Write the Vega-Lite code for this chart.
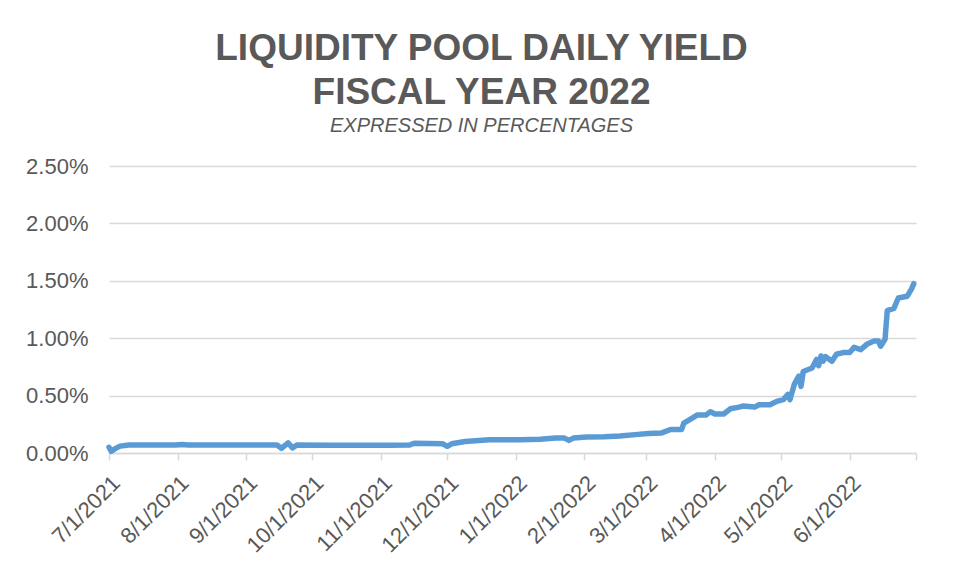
{
  "$schema": "https://vega.github.io/schema/vega-lite/v6.json",
  "width": 807,
  "height": 287,
  "autosize": {"type": "none"},
  "padding": {"left": 109, "top": 166, "right": 46, "bottom": 127},
  "background": "white",
  "title": {
    "text": ["LIQUIDITY POOL DAILY YIELD", "FISCAL YEAR 2022"],
    "subtitle": "EXPRESSED IN PERCENTAGES",
    "anchor": "middle",
    "frame": "group",
    "dx": -31,
    "offset": 18,
    "font": "Liberation Sans",
    "fontSize": 37,
    "fontWeight": "bold",
    "color": "#595959",
    "lineHeight": 44,
    "subtitleFont": "Liberation Sans",
    "subtitleFontSize": 20,
    "subtitleFontStyle": "italic",
    "subtitleColor": "#595959",
    "subtitlePadding": 4
  },
  "data": {
    "values": [
      {"date": "2021-07-01", "yield": 0.0005},
      {"date": "2021-07-02", "yield": 0.00015},
      {"date": "2021-07-04", "yield": 0.0004},
      {"date": "2021-07-06", "yield": 0.0006},
      {"date": "2021-07-10", "yield": 0.0007},
      {"date": "2021-07-20", "yield": 0.0007},
      {"date": "2021-07-31", "yield": 0.0007},
      {"date": "2021-08-03", "yield": 0.00075},
      {"date": "2021-08-06", "yield": 0.0007},
      {"date": "2021-08-20", "yield": 0.0007},
      {"date": "2021-09-01", "yield": 0.0007},
      {"date": "2021-09-15", "yield": 0.0007},
      {"date": "2021-09-17", "yield": 0.0004},
      {"date": "2021-09-20", "yield": 0.00088},
      {"date": "2021-09-22", "yield": 0.00045},
      {"date": "2021-09-24", "yield": 0.0007},
      {"date": "2021-10-10", "yield": 0.00068},
      {"date": "2021-10-25", "yield": 0.00068},
      {"date": "2021-11-05", "yield": 0.00068},
      {"date": "2021-11-14", "yield": 0.0007},
      {"date": "2021-11-16", "yield": 0.00085},
      {"date": "2021-11-29", "yield": 0.0008},
      {"date": "2021-12-01", "yield": 0.00058},
      {"date": "2021-12-03", "yield": 0.0008},
      {"date": "2021-12-09", "yield": 0.001},
      {"date": "2021-12-20", "yield": 0.00115},
      {"date": "2022-01-03", "yield": 0.00115},
      {"date": "2022-01-12", "yield": 0.0012},
      {"date": "2022-01-19", "yield": 0.0013},
      {"date": "2022-01-23", "yield": 0.0013},
      {"date": "2022-01-25", "yield": 0.0011},
      {"date": "2022-01-27", "yield": 0.0013},
      {"date": "2022-02-02", "yield": 0.0014},
      {"date": "2022-02-10", "yield": 0.00142},
      {"date": "2022-02-17", "yield": 0.00148},
      {"date": "2022-02-24", "yield": 0.0016},
      {"date": "2022-03-02", "yield": 0.0017},
      {"date": "2022-03-08", "yield": 0.00175},
      {"date": "2022-03-12", "yield": 0.00205},
      {"date": "2022-03-17", "yield": 0.00205},
      {"date": "2022-03-18", "yield": 0.0026},
      {"date": "2022-03-24", "yield": 0.0033},
      {"date": "2022-03-28", "yield": 0.0033},
      {"date": "2022-03-30", "yield": 0.0036},
      {"date": "2022-04-01", "yield": 0.0034},
      {"date": "2022-04-05", "yield": 0.0034},
      {"date": "2022-04-08", "yield": 0.00385},
      {"date": "2022-04-12", "yield": 0.004},
      {"date": "2022-04-14", "yield": 0.0041},
      {"date": "2022-04-19", "yield": 0.004},
      {"date": "2022-04-21", "yield": 0.0042},
      {"date": "2022-04-26", "yield": 0.0042},
      {"date": "2022-04-29", "yield": 0.0045},
      {"date": "2022-05-02", "yield": 0.00465},
      {"date": "2022-05-04", "yield": 0.0051},
      {"date": "2022-05-05", "yield": 0.00465},
      {"date": "2022-05-07", "yield": 0.006},
      {"date": "2022-05-09", "yield": 0.0067},
      {"date": "2022-05-10", "yield": 0.0058},
      {"date": "2022-05-11", "yield": 0.0071},
      {"date": "2022-05-15", "yield": 0.0074},
      {"date": "2022-05-17", "yield": 0.00815},
      {"date": "2022-05-18", "yield": 0.0076},
      {"date": "2022-05-19", "yield": 0.00845},
      {"date": "2022-05-20", "yield": 0.008},
      {"date": "2022-05-21", "yield": 0.0084},
      {"date": "2022-05-24", "yield": 0.008},
      {"date": "2022-05-26", "yield": 0.0086},
      {"date": "2022-05-29", "yield": 0.00875},
      {"date": "2022-06-01", "yield": 0.00875},
      {"date": "2022-06-03", "yield": 0.0092},
      {"date": "2022-06-06", "yield": 0.009},
      {"date": "2022-06-09", "yield": 0.0095},
      {"date": "2022-06-12", "yield": 0.00975},
      {"date": "2022-06-14", "yield": 0.00975},
      {"date": "2022-06-15", "yield": 0.0093},
      {"date": "2022-06-17", "yield": 0.0099},
      {"date": "2022-06-18", "yield": 0.0124},
      {"date": "2022-06-21", "yield": 0.0126},
      {"date": "2022-06-23", "yield": 0.0135},
      {"date": "2022-06-27", "yield": 0.01365},
      {"date": "2022-06-29", "yield": 0.0143},
      {"date": "2022-06-30", "yield": 0.01475}
    ]
  },
  "mark": {"type": "line", "color": "#5b9bd5", "strokeWidth": 5.5, "strokeJoin": "round", "strokeCap": "round"},
  "encoding": {
    "x": {
      "field": "date",
      "type": "temporal",
      "scale": {
        "type": "utc",
        "domain": [
          {"year": 2021, "month": 7, "date": 1, "utc": true},
          {"year": 2022, "month": 7, "date": 1, "utc": true}
        ]
      },
      "axis": {
        "title": null,
        "grid": false,
        "values": [
          {"year": 2021, "month": 7, "date": 1, "utc": true},
          {"year": 2021, "month": 8, "date": 1, "utc": true},
          {"year": 2021, "month": 9, "date": 1, "utc": true},
          {"year": 2021, "month": 10, "date": 1, "utc": true},
          {"year": 2021, "month": 11, "date": 1, "utc": true},
          {"year": 2021, "month": 12, "date": 1, "utc": true},
          {"year": 2022, "month": 1, "date": 1, "utc": true},
          {"year": 2022, "month": 2, "date": 1, "utc": true},
          {"year": 2022, "month": 3, "date": 1, "utc": true},
          {"year": 2022, "month": 4, "date": 1, "utc": true},
          {"year": 2022, "month": 5, "date": 1, "utc": true},
          {"year": 2022, "month": 6, "date": 1, "utc": true},
          {"year": 2022, "month": 7, "date": 1, "utc": true}
        ],
        "labelExpr": "datum.value >= utc(2022, 5, 15) ? '' : utcFormat(datum.value, '%-m/%-d/%Y')",
        "labelAngle": -45,
        "labelFont": "Liberation Sans",
        "labelFontSize": 22,
        "labelColor": "#595959",
        "labelPadding": 12,
        "labelOverlap": false,
        "domainColor": "#d9d9d9",
        "domainWidth": 1.5,
        "tickColor": "#d9d9d9",
        "tickWidth": 1.5,
        "tickSize": 7
      }
    },
    "y": {
      "field": "yield",
      "type": "quantitative",
      "scale": {"domain": [0, 0.025]},
      "axis": {
        "title": null,
        "values": [0, 0.005, 0.01, 0.015, 0.02, 0.025],
        "format": ".2%",
        "domain": false,
        "ticks": false,
        "grid": true,
        "gridColor": "#d9d9d9",
        "gridWidth": 1.5,
        "labelFont": "Liberation Sans",
        "labelFontSize": 22,
        "labelColor": "#595959",
        "labelPadding": 21
      }
    }
  },
  "config": {"view": {"stroke": null}}
}
